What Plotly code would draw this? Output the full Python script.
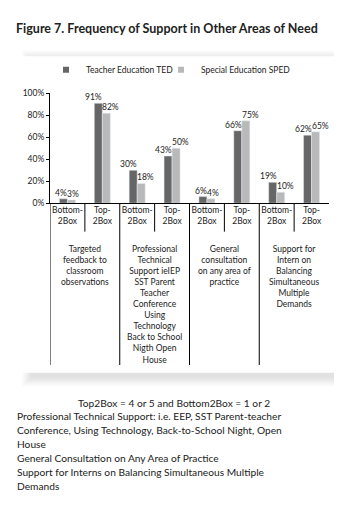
import plotly.graph_objects as go

# ---- data ----
sub_labels = ["Bottom-<br>2Box", "Top-<br>2Box"] * 4
cat_ids = ["g1b", "g1t", "g2b", "g2t", "g3b", "g3t", "g4b", "g4t"]
ted_values = [4, 91, 30, 43, 6, 66, 19, 62]
sped_values = [3, 82, 18, 50, 4, 75, 10, 65]
series_names = ["Teacher Education TED", "Special Education SPED"]
group_labels = [
    "Targeted<br>feedback to<br>classroom<br>observations",
    "Professional<br>Technical<br>Support ieIEP<br>SST Parent<br>Teacher<br>Conference<br>Using<br>Technology<br>Back to School<br>Nigth Open<br>House",
    "General<br>consultation<br>on any area of<br>practice",
    "Support for<br>Intern on<br>Balancing<br>Simultaneous<br>Multiple<br>Demands",
]
y_ticks = [0, 20, 40, 60, 80, 100]
y_ticktext = ["0%", "20%", "40%", "60%", "80%", "100%"]
title_text = "Figure 7. Frequency of Support in Other Areas of Need"
footer_center = "Top2Box = 4 or 5 and Bottom2Box = 1 or 2"
footer_lines = [
    "Professional Technical Support: i.e. EEP, SST Parent-teacher",
    "Conference, Using Technology, Back-to-School Night, Open",
    "House",
    "General Consultation on Any Area of Practice",
    "Support for Interns on Balancing Simultaneous Multiple",
    "Demands",
]

W, H = 342, 511
FONT = "Lato"
C_TED = "#666666"
C_SPED = "#b9b9b9"


def px(x):
    return x / W


def py(y):
    return 1 - y / H


fig = go.Figure()
fig.add_trace(go.Bar(x=cat_ids, y=ted_values, name=series_names[0],
                     marker_color=C_TED, showlegend=False))
fig.add_trace(go.Bar(x=cat_ids, y=sped_values, name=series_names[1],
                     marker_color=C_SPED, showlegend=False))
# legend entries (small square markers)
fig.add_trace(go.Scatter(x=[None], y=[None], mode="markers", name=series_names[0],
                         marker=dict(symbol="square", size=6, color=C_TED), legend="legend"))
fig.add_trace(go.Scatter(x=[None], y=[None], mode="markers", name=series_names[1],
                         marker=dict(symbol="square", size=6, color=C_SPED), legend="legend2"))

shapes = []
# drop shadow of panel
for k in range(10):
    shapes.append(dict(type="rect", xref="paper", yref="paper", layer="below",
                       x0=px(14 + k), x1=px(346 - k), y0=py(381 - k), y1=py(38 + k),
                       line=dict(width=0), fillcolor="rgba(0,0,0,0.013)"))
# white panel
shapes.append(dict(type="rect", xref="paper", yref="paper", layer="below",
                   x0=px(0), x1=px(327), y0=py(367), y1=py(44),
                   line=dict(width=0), fillcolor="white"))
# divider lines under the axis
for i, xv in enumerate([-0.5, 0.5, 1.5, 2.5, 3.5, 4.5, 5.5, 6.5]):
    long = i % 2 == 0
    shapes.append(dict(type="line", xref="x", yref="paper",
                       x0=xv, x1=xv, y0=py(194), y1=py(359 if long else 223),
                       line=dict(color="black", width=1)))

annotations = []
# value labels: TED label ends at the pair centre, SPED label starts there
for c, v in zip(cat_ids, ted_values):
    annotations.append(dict(x=c, y=v, xref="x", yref="y", text=f"{v}%", showarrow=False,
                            xanchor="right", yanchor="bottom", borderpad=0, xshift=1,
                            font=dict(size=8.5, family=FONT, color="#222")))
for c, v in zip(cat_ids, sped_values):
    annotations.append(dict(x=c, y=v, xref="x", yref="y", text=f"{v}%", showarrow=False,
                            xanchor="left", yanchor="bottom", borderpad=0, xshift=-1,
                            font=dict(size=8.5, family=FONT, color="#222")))
for gi, txt in enumerate(group_labels):
    annotations.append(dict(x=2 * gi + 0.5, xref="x", y=py(234), yref="paper",
                            yanchor="top", xanchor="center", text=txt, showarrow=False,
                            font=dict(size=8.5, family=FONT, color="#222"), align="center"))
annotations.append(dict(x=px(166), xref="paper", y=py(398), yref="paper",
                        yanchor="middle", xanchor="center", text=footer_center,
                        showarrow=False, font=dict(size=10.2, family=FONT, color="#222")))
for li, line in enumerate(footer_lines):
    annotations.append(dict(x=px(7), xref="paper", y=py(411 + li * 14.3), yref="paper",
                            yanchor="middle", xanchor="left", text=line,
                            showarrow=False, font=dict(size=10.2, family=FONT, color="#222")))

fig.update_layout(
    width=W, height=H,
    margin=dict(l=0, r=0, t=0, b=0),
    paper_bgcolor="white", plot_bgcolor="rgba(0,0,0,0)",
    font=dict(family=FONT, color="#222", size=9),
    title=dict(text=title_text, x=px(8), xanchor="left", y=py(21), yanchor="middle",
               pad=dict(l=0, r=0, t=0, b=0),
               font=dict(size=12.5, family=FONT, color="#222", weight="bold")),
    barmode="group", bargap=0.54, bargroupgap=0,
    xaxis=dict(domain=[px(42), px(321)], range=[-0.5, 7.5], type="category",
               categoryorder="array", categoryarray=cat_ids,
               tickmode="array", tickvals=cat_ids, ticktext=sub_labels,
               showline=True, linecolor="black", linewidth=1, ticks="",
               ticklabelstandoff=-1,
               showgrid=False, zeroline=False, tickfont=dict(size=8.5, color="#222")),
    yaxis=dict(domain=[py(194), py(82)], range=[0, 100], tickvals=y_ticks,
               ticktext=y_ticktext, showline=True, linecolor="black", linewidth=1,
               ticks="outside", ticklen=3, tickcolor="black", showgrid=False,
               zeroline=False, tickfont=dict(size=8.5, color="#222")),
    legend=dict(orientation="h", x=px(38), y=py(58), xanchor="left", yanchor="middle",
                font=dict(size=8.5, family=FONT, color="#222"), bgcolor="rgba(0,0,0,0)"),
    legend2=dict(orientation="h", x=px(153), y=py(58), xanchor="left", yanchor="middle",
                 font=dict(size=8.5, family=FONT, color="#222"), bgcolor="rgba(0,0,0,0)"),
    shapes=shapes,
    annotations=annotations,
)

fig.write_html("out.html")
